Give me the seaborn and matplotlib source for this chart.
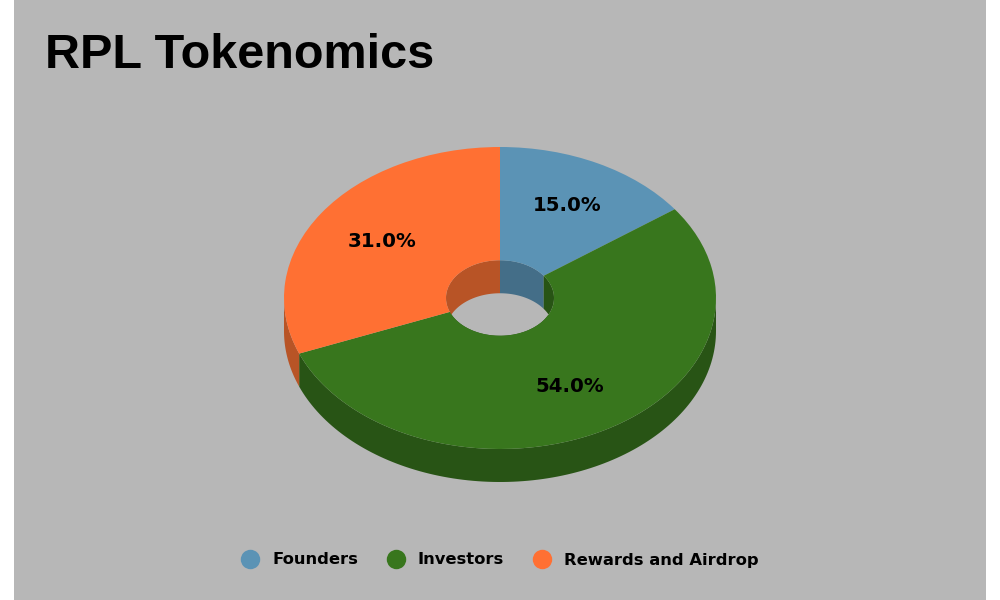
import numpy as np
import matplotlib
matplotlib.use("Agg")
import matplotlib.pyplot as plt
from matplotlib.lines import Line2D
import seaborn as sns

# Chart data
categories = ["Founders", "Investors", "Rewards and Airdrop"]
shares = [15.0, 54.0, 31.0]
top_colors = ["#5B93B5", "#38761D", "#FF7033"]
side_colors = ["#446E88", "#285415", "#B85426"]

# Ellipse geometry in pixels
CX, CY = 500, 298
RX, RY = 216, 151
DEPTH = 33 / RY
HOLE = 0.25

sns.set_theme(style="white")
plt.rcParams["font.family"] = ["DejaVu Sans"]

fig = plt.figure(figsize=(10, 6), dpi=100, facecolor="white")
ax = fig.add_axes([14 / 1000, 0, 972 / 1000, 1])


def wall(start, end, radius, color):
    # side wall of one slice, angles run clockwise from 12 o'clock
    t = np.radians(np.linspace(start, end, 120))
    x = radius * np.sin(t)
    y = radius * np.cos(t)
    ax.fill(np.r_[x, x[::-1]], np.r_[y, y[::-1] - DEPTH], color=color, lw=0)


# Walls first, the top ring covers whatever sticks out
edges = np.r_[0, np.cumsum(shares)] * 3.6
for start, end, color in zip(edges[:-1], edges[1:], side_colors):
    lo, hi = max(start, 90), min(end, 270)
    if hi > lo:
        wall(lo, hi, 1.0, color)
    wall(start, end, HOLE, color)

wedges, texts, pcts = ax.pie(
    shares,
    colors=top_colors,
    startangle=90,
    counterclock=False,
    radius=1.0,
    autopct="%.1f%%",
    pctdistance=0.69,
    wedgeprops={"width": 1 - HOLE, "linewidth": 0},
    textprops={"fontsize": 14.2, "fontweight": "bold", "color": "black"},
)

# Squash the circle into the tilted ellipse
ax.set_aspect("auto")
ax.set_xlim((14 - CX) / RX, (986 - CX) / RX)
ax.set_ylim((CY - 600) / RY, CY / RY)
ax.set_frame_on(True)
ax.set_facecolor("#B7B7B7")
sns.despine(ax=ax, left=True, bottom=True)

# small nudges of the percent labels, in pixels
for label, (dx, dy) in zip(pcts, [(-1, 0), (-2, 3), (5, -2)]):
    x, y = label.get_position()
    label.set_position((x + dx / RX, y + dy / RY))

fig.text(45 / 1000, 1 - 68 / 600, "RPL Tokenomics", family="Liberation Sans",
         fontsize=35, fontweight="bold", color="black", va="baseline", ha="left")

handles = [
    Line2D([], [], linestyle="none", marker="o", markersize=14, markeredgewidth=0,
           color=c, label=name)
    for name, c in zip(categories, top_colors)
]
ax.legend(
    handles=handles,
    ncol=3,
    frameon=False,
    loc="center",
    bbox_to_anchor=(0.496, 1 - 560 / 600),
    prop={"size": 11.8, "weight": "bold"},
    labelcolor="black",
    handletextpad=0.35,
    columnspacing=1.3,
)

fig.savefig("out.png", dpi=100)
